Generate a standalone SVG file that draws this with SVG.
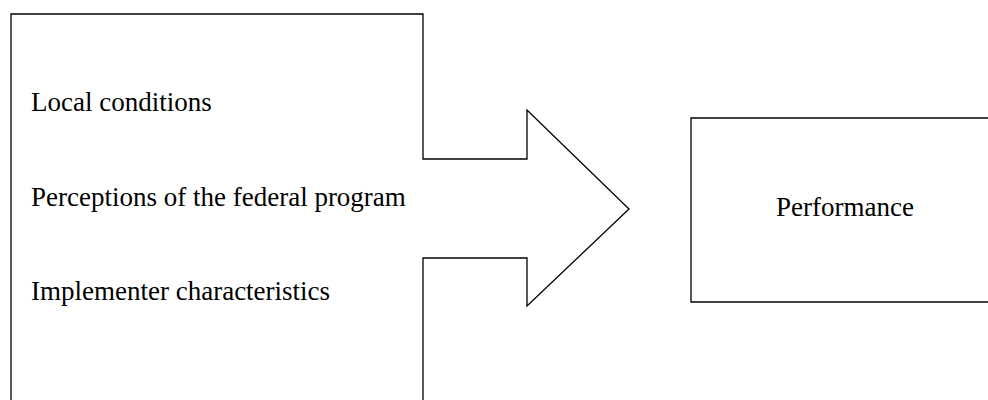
<svg xmlns="http://www.w3.org/2000/svg" width="988" height="400" viewBox="0 0 988 400">
<style>
.ln{fill:none;stroke:#000;stroke-width:1.3}
.t{font-family:"Liberation Serif","Times New Roman",serif;font-size:27px;fill:#000}
</style>
<rect width="988" height="400" fill="#fff"/>
<g id="factors">
<path class="ln" d="M11,401 V14 H423 V159 H527 V110 L629,209 L527,306 V258 H423 V401"/>
<text class="t" x="31" y="111">Local conditions</text>
<text class="t" x="31" y="206">Perceptions of the federal program</text>
<text class="t" x="31" y="300">Implementer characteristics</text>
</g>
<g id="performance">
<path class="ln" d="M990,118 H691 V302 H990"/>
<text class="t" x="845" y="216" text-anchor="middle">Performance</text>
</g>
<g id="connectors"></g>
</svg>
